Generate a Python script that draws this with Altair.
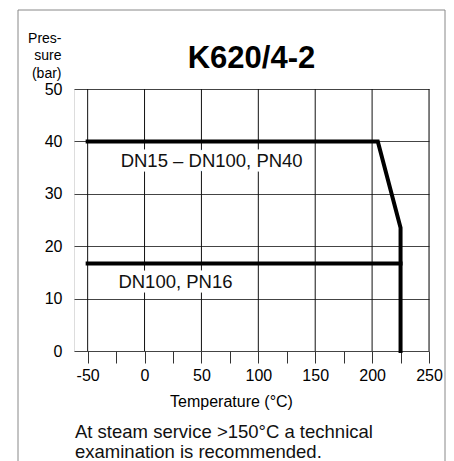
import altair as alt
import pandas as pd

FONT = "Liberation Sans"

# ---- data ----
pn40_temp = [-50, 205, 225, 225]
pn40_pres = [40, 40, 23.5, 0]
pn16_temp = [-50, 225]
pn16_pres = [16.7, 16.7]

x_ticks = list(range(-50, 251, 25))
x_grid = list(range(-50, 251, 50))
y_ticks = list(range(0, 51, 10))

label_text = ["DN15 – DN100, PN40", "DN100, PN16"]
label_temp = [-21, -23]
label_pres = [35.2, 12.0]

chart_title = "K620/4-2"
x_title = "Temperature (°C)"
y_title = ["Pres-", "sure", "(bar)"]
footnote = "At steam service >150°C a technical\nexamination is recommended."

# ---- tables ----
lines_df = pd.DataFrame({
    "temp": pn40_temp + pn16_temp,
    "pres": pn40_pres + pn16_pres,
    "series": ["PN40"] * len(pn40_temp) + ["PN16"] * len(pn16_temp),
    "idx": list(range(len(pn40_temp))) + list(range(len(pn16_temp))),
})
grid_df = pd.DataFrame({"temp": x_grid})
labels_df = pd.DataFrame({"temp": label_temp, "pres": label_pres, "text": label_text})
foot_df = pd.DataFrame({"text": [footnote]})
frame_df = pd.DataFrame({"a": [0]})

x_scale = alt.Scale(domain=[-62, 250], nice=False, zero=False)
y_scale = alt.Scale(domain=[0, 50], nice=False, zero=False)

x_axis = alt.Axis(
    values=x_ticks, grid=False, domain=False,
    tickSize=12, tickColor="#333333", tickWidth=1,
    labelExpr="datum.value % 50 == 0 ? '' + datum.value : ''",
    labelFontSize=16, labelFont=FONT, labelColor="black", labelPadding=4,
    labelFlush=False, labelOverlap=False,
    title=x_title, titleFontSize=16, titleFont=FONT, titleFontWeight="normal",
    titleColor="black", titleX=157, titleY=55, titleAlign="center",
    titleBaseline="alphabetic",
)
y_axis = alt.Axis(
    values=y_ticks, grid=True, gridColor="#444444", gridWidth=1,
    ticks=False, tickSize=0, domain=False,
    labelFontSize=16, labelFont=FONT, labelColor="black", labelPadding=12,
    title=y_title, titleAngle=0, titleAlign="right", titleBaseline="alphabetic",
    titleX=-13, titleY=-47, titleFontSize=14, titleFont=FONT,
    titleFontWeight="normal", titleColor="black", titleLineHeight=17.5,
)

X = alt.X("temp:Q", scale=x_scale, axis=x_axis)
Y = alt.Y("pres:Q", scale=y_scale, axis=y_axis)

frame = alt.Chart(frame_df).mark_rect(
    fill="transparent", stroke="#888888", strokeWidth=1
).encode(
    x=alt.value(-56), x2=alt.value(371), y=alt.value(-79), y2=alt.value(430)
)

vgrid = alt.Chart(grid_df).mark_rule(color="#111111", strokeWidth=1).encode(x=X)

lines = alt.Chart(lines_df).mark_line(
    color="black", strokeWidth=4, strokeCap="square", strokeJoin="miter"
).encode(x=X, y=Y, detail="series:N", order="idx:Q")

halo = alt.Chart(labels_df).mark_text(
    align="left", baseline="alphabetic", fontSize=18.5, font=FONT,
    stroke="white", strokeWidth=9, strokeJoin="round", fill="white"
).encode(x=X, y=Y, text="text:N")

labels = alt.Chart(labels_df).mark_text(
    align="left", baseline="alphabetic", fontSize=18.5, font=FONT, color="#111111"
).encode(x=X, y=Y, text="text:N")

foot = alt.Chart(foot_df).mark_text(
    align="left", baseline="alphabetic", fontSize=18.5, font=FONT,
    color="#111111", lineBreak="\n", lineHeight=20
).encode(x=alt.value(1), y=alt.value(349), text="text:N")

chart = alt.layer(frame, vgrid, lines, halo, labels, foot).properties(
    width=355, height=262,
    autosize=alt.AutoSizeParams(type="none"),
    padding={"left": 66, "top": 81, "right": 17, "bottom": 110},
    title=alt.TitleParams(
        text=chart_title, fontSize=31, fontWeight="bold", font=FONT,
        anchor="middle", frame="group", offset=-89, baseline="alphabetic",
        color="black",
    ),
).configure_view(strokeWidth=0).configure(background="white")

chart.save("out.html", embed_options={"renderer": "svg", "actions": False})
